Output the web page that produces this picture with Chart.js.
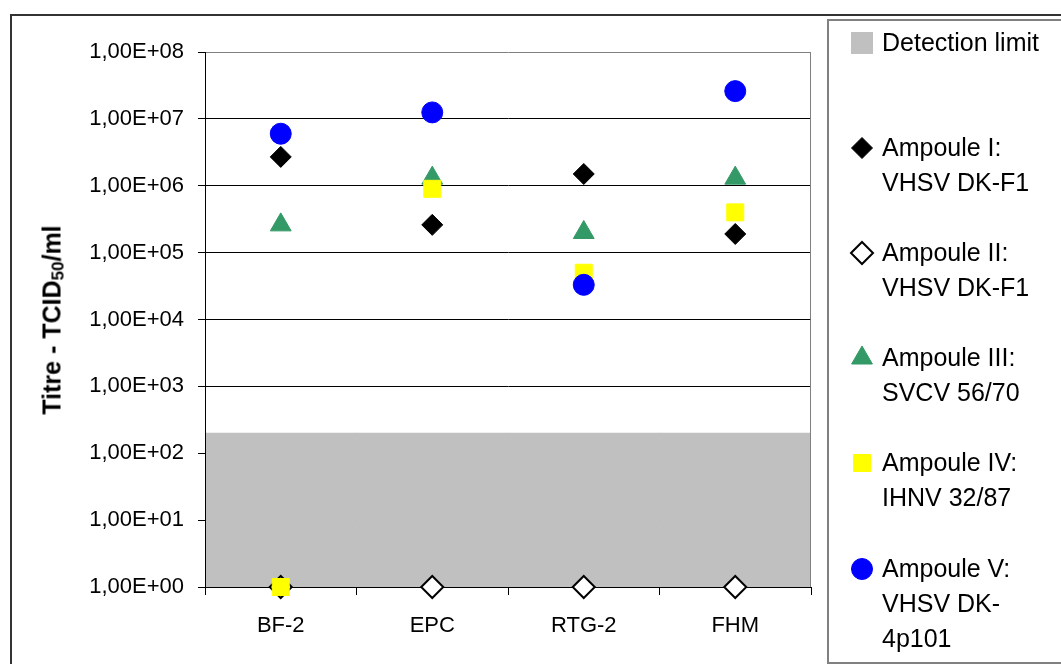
<!DOCTYPE html>
<html>
<head>
<meta charset="utf-8">
<script src="https://cdn.jsdelivr.net/npm/chart.js@4/dist/chart.umd.min.js"></script>
<style>
  body { margin: 0; width: 1061px; height: 664px; position: relative; overflow: hidden; background: #fff; font-family: 'Liberation Sans', Arial, sans-serif; }
  #frame { position: absolute; left: 10px; top: 14px; width: 1200px; height: 800px; border-top: 2px solid #333; border-left: 2px solid #333; }
  #chart { position: absolute; left: 0; top: 0; }
  #legendBox { position: absolute; left: 827px; top: 19px; width: 400px; height: 641px; border: 2px solid #808080; }
  .item { position: absolute; left: 849px; font-size: 25px; line-height: 35px; color: #000; }
  .item canvas { position: absolute; left: 0; top: 5px; }
  .item div { position: absolute; left: 33px; top: 0; white-space: nowrap; }
  #ytitle { position: absolute; left: 52px; top: 320px; transform: translate(-50%, -50%) rotate(-90deg); font-size: 25px; font-weight: bold; white-space: nowrap; color: #000; }
  #ytitle sub { font-size: 17px; vertical-align: -3px; line-height: 0; }
</style>
</head>
<body>
<div id="frame"></div>
<canvas id="chart" width="1061" height="664"></canvas>
<div id="legendBox"></div>
<div id="legend"></div>
<div id="ytitle">Titre - TCID<sub>50</sub>/ml</div>
<script>
const cellLines = ['BF-2', 'EPC', 'RTG-2', 'FHM'];
const detectionLimit = [200, 200, 200, 200];
const ampouleI = [2.7e6, 2.6e5, 1.5e6, 1.9e5];
const ampouleII = [1, 1, 1, 1];
const ampouleIII = [2.6e5, 1.3e6, 2.0e5, 1.3e6];
const ampouleIV = [1, 9.0e5, 5.0e4, 4.0e5];
const ampouleV = [6.0e6, 1.25e7, 3.3e4, 2.6e7];
const yTickValues = [1, 10, 100, 1e3, 1e4, 1e5, 1e6, 1e7, 1e8];
const yTickLabels = ['1,00E+00', '1,00E+01', '1,00E+02', '1,00E+03', '1,00E+04', '1,00E+05', '1,00E+06', '1,00E+07', '1,00E+08'];
const legendLabels = [
  ['Detection limit'],
  ['Ampoule I:', 'VHSV DK-F1'],
  ['Ampoule II:', 'VHSV DK-F1'],
  ['Ampoule III:', 'SVCV 56/70'],
  ['Ampoule IV:', 'IHNV 32/87'],
  ['Ampoule V:', 'VHSV DK-', '4p101'],
];

const FONT = "'Liberation Sans', Arial, sans-serif";

function marker(label, data, style, radius, fill, border, order) {
  return {
    type: 'line',
    label: label,
    data: data,
    showLine: false,
    pointStyle: style,
    pointRadius: radius,
    pointHoverRadius: radius,
    pointBackgroundColor: fill,
    pointBorderColor: border,
    pointBorderWidth: fill === '#ffffff' ? 2 : 1,
    backgroundColor: fill,
    borderColor: border,
    order: order,
    clip: false,
  };
}

const datasets = [
  {
    type: 'bar',
    label: legendLabels[0].join(' '),
    data: detectionLimit,
    backgroundColor: '#c0c0c0',
    borderWidth: 0,
    categoryPercentage: 1,
    barPercentage: 1,
    order: 10,
  },
  marker(legendLabels[1].join(' '), ampouleI, 'rectRot', 10.5, '#000000', '#000000', 5),
  marker(legendLabels[2].join(' '), ampouleII, 'rectRot', 11, '#ffffff', '#000000', 4),
  marker(legendLabels[3].join(' '), ampouleIII, 'triangle', 12, '#339966', '#339966', 3),
  marker(legendLabels[4].join(' '), ampouleIV, 'rect', 12, '#ffff00', '#ffff00', 2),
  marker(legendLabels[5].join(' '), ampouleV, 'circle', 10.5, '#0000ff', '#0000ff', 1),
];

// redraw the axis lines over the grey band, before the markers
const axisOverBand = {
  id: 'axisOverBand',
  afterDatasetDraw(chart, args) {
    if (args.index !== 0) return;
    const a = chart.chartArea;
    const ctx = chart.ctx;
    ctx.save();
    ctx.lineWidth = 1;
    ctx.strokeStyle = '#000';
    ctx.beginPath();
    ctx.moveTo(a.left + 0.5, a.top);
    ctx.lineTo(a.left + 0.5, a.bottom + 0.5);
    ctx.lineTo(a.right, a.bottom + 0.5);
    ctx.stroke();
    ctx.strokeStyle = '#808080';
    ctx.beginPath();
    ctx.moveTo(a.right - 0.5, a.top);
    ctx.lineTo(a.right - 0.5, a.bottom);
    ctx.stroke();
    ctx.restore();
  },
};

new Chart(document.getElementById('chart').getContext('2d'), {
  type: 'bar',
  data: { labels: cellLines, datasets: datasets },
  plugins: [axisOverBand],
  options: {
    responsive: false,
    animation: false,
    devicePixelRatio: 1,
    layout: { padding: { top: 52, right: 250, bottom: 0, left: 0 } },
    plugins: { legend: { display: false }, tooltip: { enabled: false } },
    scales: {
      x: {
        type: 'category',
        offset: true,
        grid: { drawOnChartArea: false, drawTicks: true, tickLength: 8, color: '#000', offset: true },
        border: { color: '#000' },
        ticks: { color: '#000', padding: 18, font: { family: FONT, size: 22 } },
        afterFit(scale) { scale.height = 77; },
      },
      y: {
        type: 'logarithmic',
        min: 1,
        max: 1e8,
        afterBuildTicks(scale) {
          scale.ticks = yTickValues.map((v) => ({ value: v }));
        },
        afterFit(scale) { scale.width = 205; },
        grid: {
          color: (c) => (c.tick && c.tick.value === 1e8 ? '#808080' : '#000'),
          tickColor: '#000',
          tickLength: 7,
        },
        border: { color: '#000' },
        ticks: {
          color: '#000',
          padding: 14,
          autoSkip: false,
          font: { family: FONT, size: 22 },
          callback: (v) => yTickLabels[yTickValues.indexOf(v)],
        },
      },
    },
  },
});

// legend built from the dataset styles
const legendEl = document.getElementById('legend');
datasets.forEach((ds, i) => {
  const item = document.createElement('div');
  item.className = 'item';
  item.style.top = (42 + i * 105.2 - 17.5) + 'px';
  const sym = document.createElement('canvas');
  sym.width = 26;
  sym.height = 26;
  const c = sym.getContext('2d');
  if (ds.type === 'bar') {
    c.fillStyle = ds.backgroundColor;
    c.fillRect(2, 2, 22, 22);
  } else {
    c.fillStyle = ds.pointBackgroundColor;
    c.strokeStyle = ds.pointBorderColor;
    c.lineWidth = ds.pointBorderWidth;
    Chart.helpers.drawPoint(c, {
      pointStyle: ds.pointStyle,
      radius: ds.pointRadius,
      borderWidth: ds.pointBorderWidth,
    }, 13, 13);
  }
  item.appendChild(sym);
  const txt = document.createElement('div');
  txt.innerHTML = legendLabels[i].join('<br>');
  item.appendChild(txt);
  legendEl.appendChild(item);
});
</script>
</body>
</html>
